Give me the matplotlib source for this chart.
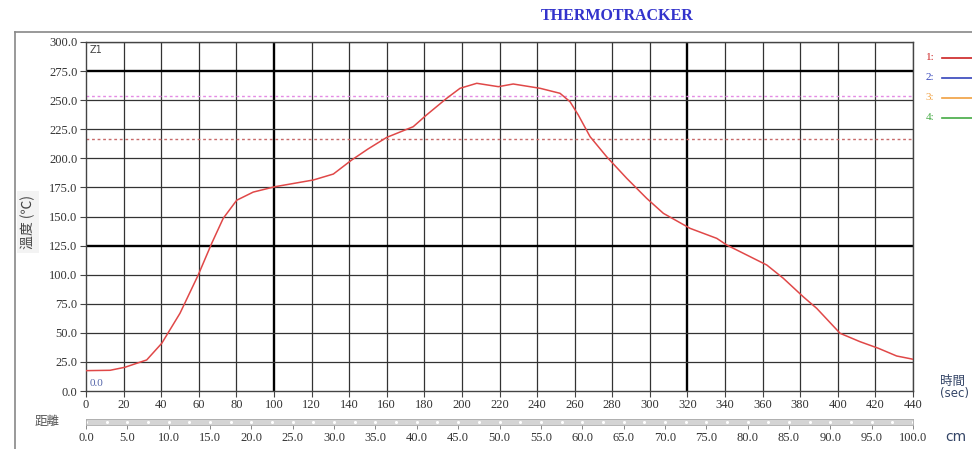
import numpy as np
import matplotlib
matplotlib.use("Agg")
import matplotlib.pyplot as plt
from matplotlib.lines import Line2D

# reflow profile
time_s = [0, 12.8, 20.7, 32.3, 40.3, 50, 59.7, 66.9, 73, 80.2, 89, 100.5, 121, 131.6,
          141.4, 150, 160, 174.1, 181.2, 191.9, 199, 207.9, 219.4, 227.3, 241.6, 252.2,
          257.5, 261.9, 268.2, 277, 287.7, 298.3, 307.2, 321.4, 335.6, 340.9, 362.2,
          371, 381.6, 388.8, 401.2, 411.8, 421.6, 431.3, 440]
temp_c = [17.5, 17.8, 20.4, 26.7, 41, 66.8, 99.7, 127, 148.4, 164, 171, 175.6, 181.4, 186.5,
          198.6, 208, 218, 227.2, 237.3, 251.6, 260.2, 264.5, 261.6, 263.9, 260.2, 255.9,
          248.7, 237.3, 218.6, 201.4, 182.8, 165.6, 152.7, 139.8, 131.2, 125.5, 108.3,
          96.9, 81, 71, 49.6, 42.4, 36.7, 30.1, 27.3]

limit_lines = [254, 216.5]
limit_colors = ["#e48ae4", "#c86a6a"]

time_ticks = list(range(0, 441, 20))
temp_ticks = [i * 25.0 for i in range(13)]
dist_ticks = [i * 5.0 for i in range(21)]

legend_ids = ["1", "2", "3", "4"]
legend_colors = ["#cc2222", "#3344bb", "#f0a040", "#44aa44"]

W, H = 972, 449
fig = plt.figure(figsize=(W / 100, H / 100), dpi=100)
fig.patch.set_facecolor("white")

num_font = dict(family="Liberation Serif", size=9, color="#333333")
cjk = ["Noto Sans CJK TC", "DejaVu Sans"]


def fx(px):
    return px / W


def fy(py):
    return 1 - py / H


# outer panel frame
fig.add_artist(Line2D([fx(15), fx(15)], [fy(32), 0], color="#888888", lw=1.2))
fig.add_artist(Line2D([fx(15), 1], [fy(32), fy(32)], color="#888888", lw=1.2))

ax = fig.add_axes([fx(86), fy(391), fx(913) - fx(86), fy(42) - fy(391)])
ax.set_xlim(0, 440)
ax.set_ylim(0, 300)

for t in time_ticks[1:]:
    bold = t in (100, 320)
    ax.axvline(t, color="#000000" if bold else "#333333", lw=1.7 if bold else 0.9, zorder=1)
for v in temp_ticks[1:]:
    bold = v in (125, 275)
    ax.axhline(v, color="#000000" if bold else "#333333", lw=1.7 if bold else 0.9, zorder=1)

for val, col in zip(limit_lines, limit_colors):
    ax.axhline(val, color=col, lw=1.0, ls=(0, (2, 2)), zorder=2)

ax.plot(time_s, temp_c, color="#e04848", lw=1.1, zorder=3)

ax.set_xticks(time_ticks)
ax.set_xticklabels([str(t) for t in time_ticks], **num_font)
ax.set_yticks(temp_ticks)
ax.set_yticklabels(["%.1f" % v for v in temp_ticks], **num_font)
ax.tick_params(axis="both", length=4, width=0.8, color="#444444", pad=2)
for s in ax.spines.values():
    s.set_color("#444444")
    s.set_linewidth(1.0)

ax.text(2, 297, "Z1", fontsize=7, family="DejaVu Sans", color="#444444", va="top", ha="left")
ax.text(2, 3, "0.0", fontsize=8, family="Liberation Serif", color="#5566aa", va="bottom", ha="left")

# distance ruler under the time axis
rx = fig.add_axes([fx(86), fy(425), fx(913) - fx(86), fy(419) - fy(425)])
rx.set_xlim(0, 100)
rx.set_ylim(0, 1)
rx.set_facecolor("#d4d4d4")
for s in rx.spines.values():
    s.set_color("#aaaaaa")
    s.set_linewidth(0.6)
rx.set_yticks([])
rx.set_xticks(dist_ticks)
rx.set_xticklabels(["%.1f" % d for d in dist_ticks], **num_font)
rx.tick_params(axis="x", length=3, width=0.7, color="#888888", pad=2)
rx.plot(np.arange(0, 100.1, 2.5), [0.5] * 41, ls="none", marker="o", ms=1.2,
        color="white")

fig.text(fx(617), fy(16), "THERMOTRACKER", ha="center", va="center",
         family="Liberation Serif", weight="bold", size=11.5, color="#3333cc")

fig.text(fx(28), fy(222), "溫度 (℃)", rotation=90, ha="center", va="center",
         family=cjk, size=10, color="#444444",
         bbox=dict(boxstyle="square,pad=0.3", fc="#f3f3f3", ec="none"))
fig.text(fx(47), fy(421), "距離", ha="center", va="center", family=cjk, size=9, color="#555555")
fig.text(fx(940), fy(381), "時間", ha="left", va="center", family=cjk, size=9, color="#334466")
fig.text(fx(940), fy(394), "(sec)", ha="left", va="center", family="DejaVu Sans", size=8.5,
         color="#334466")
fig.text(fx(945), fy(437), "cm", ha="left", va="center", family="DejaVu Sans", size=10,
         color="#334466")

for i, (lab, col) in enumerate(zip(legend_ids, legend_colors)):
    ypx = 58 + i * 20
    fig.text(fx(930), fy(ypx), lab + ":", ha="center", va="center", family="Liberation Serif",
             size=8, color=col)
    fig.add_artist(Line2D([fx(942), 1], [fy(ypx), fy(ypx)], color=col, lw=1.2))

fig.savefig("out.png", dpi=100)
